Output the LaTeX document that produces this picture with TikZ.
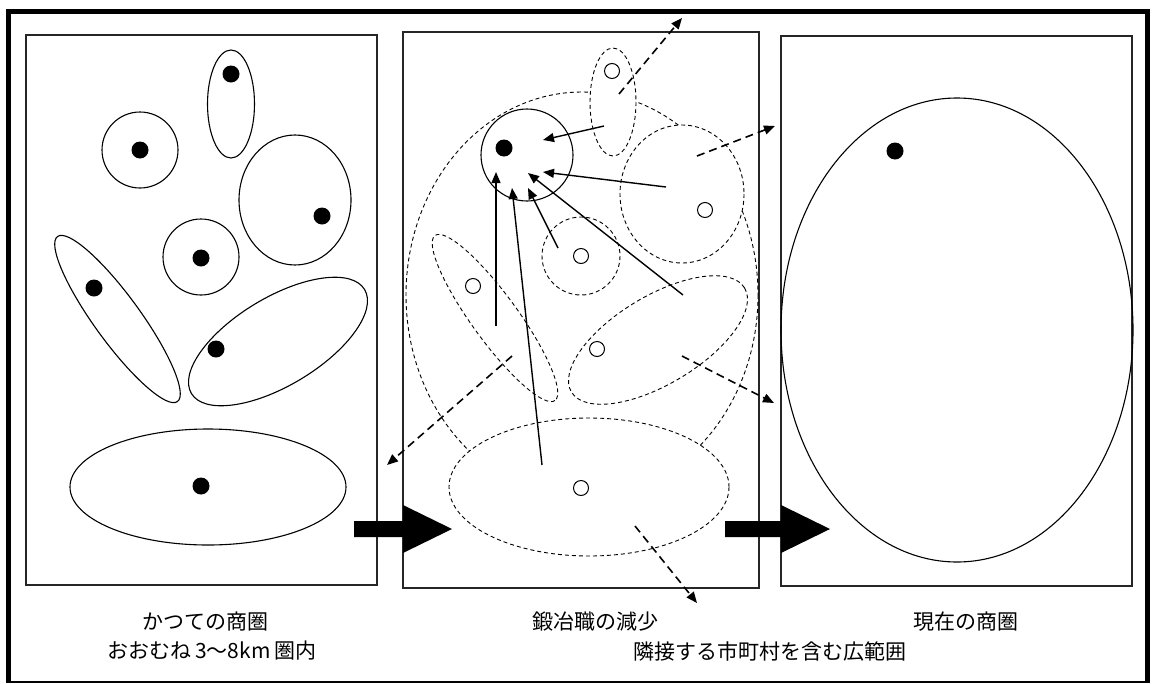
\documentclass[tikz,border=0pt]{standalone}
\usepackage{fontspec}
\newfontfamily\jp{Noto Sans CJK JP}
\usetikzlibrary{arrows.meta}
\begin{document}
\begin{tikzpicture}[x=1pt,y=-1pt,
  panel/.style={draw=black!85, line width=1.3pt},
  zone/.style={draw, line width=1.1pt},
  dzone/.style={draw, line width=0.9pt, dash pattern=on 4pt off 3pt},
  shop/.style={circle, fill=black, inner sep=0pt, minimum size=17pt},
  oldshop/.style={circle, draw, line width=1pt, fill=white, inner sep=0pt, minimum size=15pt},
  pull/.style={line width=1.4pt, -{Triangle[length=11pt,width=9pt]}},
  push/.style={line width=1.6pt, dash pattern=on 8pt off 5pt, -{Triangle[length=11pt,width=9pt]}},
  blockarrow/.style={fill=black},
  caption/.style={font=\jp\fontsize{21}{25}\selectfont, inner sep=0pt}
]
\useasboundingbox (0,0) rectangle (1153,683);

% outer frame
\draw[line width=4.5pt] (8.5,683) -- (8.5,11.5) -- (1147.5,11.5) -- (1147.5,683);
\draw[line width=2pt] (8,681.5) -- (1148,681.5);

% three panels
\draw[panel] (26,35) rectangle (377,585);
\draw[panel] (403,32) rectangle (759,588);
\draw[panel] (781,36) rectangle (1132,586);

% ---- left panel: many small trade areas ----
\draw[zone] (231,104) ellipse [x radius=23.5, y radius=54];
\draw[zone] (140,150) circle [radius=38];
\draw[zone] (295,200) ellipse [x radius=56, y radius=65];
\draw[zone] (201,257) circle [radius=38];
\draw[zone, rotate around={-54:(117.5,319)}] (117.5,319) ellipse [x radius=102, y radius=23];
\draw[zone, rotate around={31:(278,341.5)}] (278,341.5) ellipse [x radius=101, y radius=44];
\draw[zone] (208,487) ellipse [x radius=138, y radius=58];

\node[shop] (l1) at (231,74) {};
\node[shop] (l2) at (140,150) {};
\node[shop] (l3) at (322,216) {};
\node[shop] (l4) at (201,258) {};
\node[shop] (l5) at (94,288) {};
\node[shop] (l6) at (216,349) {};
\node[shop] (l7) at (201,486) {};

% ---- middle panel: merging areas ----
\draw[dzone] (582,295) ellipse [x radius=176, y radius=203];
\fill[white] (613,102) ellipse [x radius=23, y radius=54];
\fill[white] (682,194) ellipse [x radius=62, y radius=69];
\fill[white] (589,487) ellipse [x radius=140, y radius=69];
\fill[white] (527,155) circle [radius=46];

\draw[dzone] (613,102) ellipse [x radius=23, y radius=54];
\draw[dzone] (682,194) ellipse [x radius=62, y radius=69];
\draw[dzone] (581,256) circle [radius=39];
\draw[dzone, rotate around={-54:(495,318)}] (495,318) ellipse [x radius=102, y radius=23];
\draw[dzone, rotate around={31:(658,340)}] (658,340) ellipse [x radius=101, y radius=44];
\draw[dzone] (589,487) ellipse [x radius=140, y radius=69];
\draw[zone] (527,155) circle [radius=46];

\node[shop] (hub) at (504,148) {};
\node[oldshop] (m1) at (612,71) {};
\node[oldshop] (m2) at (705,210) {};
\node[oldshop] (m3) at (581,256) {};
\node[oldshop] (m4) at (473,286) {};
\node[oldshop] (m5) at (597,349) {};
\node[oldshop] (m6) at (581,488) {};

% customers drawn towards the remaining smithy
\coordinate (s1) at (604,126);  \coordinate (e1) at (543,140);
\coordinate (s2) at (666,187);  \coordinate (e2) at (543,172);
\coordinate (s3) at (683,295);  \coordinate (e3) at (528,173);
\coordinate (s4) at (558,248);  \coordinate (e4) at (528,188);
\coordinate (s5) at (496,326);  \coordinate (e5) at (496,172);
\coordinate (s6) at (542,465);  \coordinate (e6) at (512,188);
\foreach \i in {1,...,6} \draw[pull] (s\i) -- (e\i);

% customers leaving the area
\coordinate (o1) at (619,94);   \coordinate (t1) at (682,18);
\coordinate (o2) at (697,156);  \coordinate (t2) at (775,126);
\coordinate (o3) at (682,356);  \coordinate (t3) at (774,403);
\coordinate (o4) at (512,356);  \coordinate (t4) at (387,465);
\coordinate (o5) at (635,526);  \coordinate (t5) at (697,603);
\foreach \i in {1,...,5} \draw[push] (o\i) -- (t\i);

% ---- right panel: one wide trade area ----
\draw[zone] (957,330) ellipse [x radius=176, y radius=232];
\node[shop] (r1) at (895,151) {};

% block arrows between the panels
\coordinate (b1) at (354,529);
\coordinate (b2) at (725,529);
\fill[blockarrow] (b1) ++(0,-8) -- ++(49,0) -- ++(0,-16) -- ++(49,24) -- ++(-49,24) -- ++(0,-16) -- ++(-49,0) -- cycle;
\fill[blockarrow] (b2) ++(0,-8) -- ++(56,0) -- ++(0,-16) -- ++(49,24) -- ++(-49,24) -- ++(0,-16) -- ++(-56,0) -- cycle;

% captions
\node[caption] (cap1) at (205,622) {かつての商圏};
\node[caption] (cap2) at (212,651) {おおむね\,3～8km\,圏内};
\node[caption] (cap3) at (595,622) {鍛冶職の減少};
\node[caption] (cap4) at (770,651) {隣接する市町村を含む広範囲};
\node[caption] (cap5) at (966,622) {現在の商圏};
\end{tikzpicture}
\end{document}
